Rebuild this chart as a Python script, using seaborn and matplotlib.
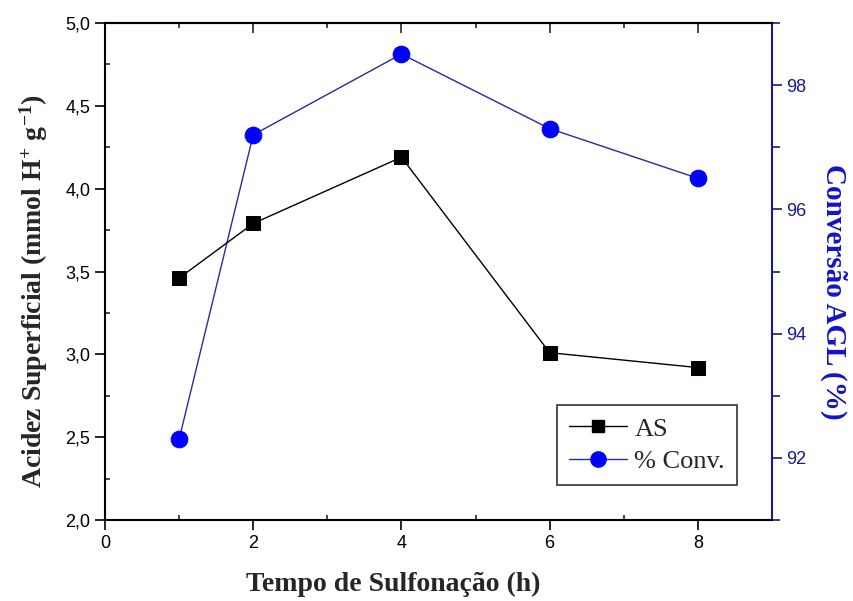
import matplotlib
matplotlib.use("Agg")
import matplotlib.pyplot as plt
import seaborn as sns
import numpy as np
from matplotlib.ticker import MultipleLocator, FuncFormatter
from matplotlib.lines import Line2D

# Data
tempo = [1, 2, 4, 6, 8]
acidez = [3.46, 3.79, 4.19, 3.01, 2.92]
conversao = [92.3, 97.2, 98.5, 97.3, 96.5]
label_as = "AS"
label_conv = "% Conv."
xlabel = "Tempo de Sulfonação (h)"
ylabel_left = r"Acidez Superficial (mmol H$^{\mathbf{+}}$ g$^{\mathbf{-1}}$)"
ylabel_right = "Conversão AGL (%)"

sns.set_theme(style="white")
plt.rcParams['font.family'] = ['Liberation Sans', 'DejaVu Sans']
plt.rcParams['mathtext.fontset'] = 'custom'
plt.rcParams['mathtext.rm'] = 'Liberation Serif:bold'
plt.rcParams['mathtext.bf'] = 'Liberation Serif:bold'
plt.rcParams['mathtext.it'] = 'Liberation Serif:bold'

fig = plt.figure(figsize=(8.54, 6.01), dpi=100)
ax = fig.add_axes([105/854, 81/601, 667/854, 497/601])
ax2 = ax.twinx()

blue_line = '#2a2a9a'
blue_mark = '#0000ff'
navy = '#1a1a8c'

sns.lineplot(x=tempo, y=acidez, ax=ax, color='black', lw=1.0, marker='s',
             markersize=10, markeredgecolor='black', markerfacecolor='black')
sns.lineplot(x=tempo, y=conversao, ax=ax2, color=blue_line, lw=1.0, marker='o',
             markersize=12, markeredgecolor=blue_mark, markerfacecolor=blue_mark)

ax.set_xlim(0, 9)
ax.set_ylim(2.0, 5.0)
ax2.set_ylim(91, 99)

ax.xaxis.set_major_locator(MultipleLocator(2))
ax.xaxis.set_minor_locator(MultipleLocator(1))
ax.yaxis.set_major_locator(MultipleLocator(0.5))
ax.yaxis.set_minor_locator(MultipleLocator(0.25))
ax.yaxis.set_major_formatter(FuncFormatter(lambda v, p: f"{v:.1f}".replace('.', ',')))
ax2.yaxis.set_major_locator(MultipleLocator(2))
ax2.yaxis.set_minor_locator(MultipleLocator(1))
ax2.yaxis.set_major_formatter(FuncFormatter(lambda v, p: f"{int(round(v))}"))

ax.tick_params(axis='both', which='major', direction='out', length=7, width=1.2,
               labelsize=13, color='black', labelcolor='black', left=True, bottom=True)
ax.tick_params(axis='both', which='minor', direction='in', length=3.5, width=1.2,
               left=True, bottom=True)
ax.tick_params(axis='y', which='both', right=False)
ax2.tick_params(axis='y', which='major', direction='out', length=7, width=1.2,
                labelsize=13, color=navy, labelcolor=navy, right=True)
ax2.tick_params(axis='y', which='minor', direction='out', length=6, width=1.2,
                color=navy, right=True)

top = ax.secondary_xaxis('top')
top.xaxis.set_major_locator(MultipleLocator(2))
top.xaxis.set_minor_locator(MultipleLocator(1))
top.tick_params(which='major', direction='in', length=7, width=1.2, labeltop=False)
top.tick_params(which='minor', direction='in', length=3.5, width=1.2)
top.spines['top'].set_linewidth(1.5)

for s in ['left', 'bottom', 'top']:
    ax.spines[s].set_color('black')
    ax.spines[s].set_linewidth(1.5)
    ax2.spines[s].set_visible(False)
ax.spines['right'].set_visible(False)
ax2.spines['right'].set_color(navy)
ax2.spines['right'].set_linewidth(1.5)

ax.set_xlabel(xlabel, fontsize=20, fontweight='bold', family='Liberation Serif')
ax.xaxis.set_label_coords(0.432, -0.105)
ax.set_ylabel(ylabel_left, fontsize=20, fontweight='bold', family='Liberation Serif')
ax.yaxis.set_label_coords(-0.082, 0.46)
ax2.set_ylabel(ylabel_right, fontsize=21, fontweight='bold', family='Liberation Serif',
               color='#1414c8', rotation=270, va='bottom')
ax2.yaxis.set_label_coords(1.072, 0.46)

handles = [
    Line2D([], [], color='black', lw=1.0, marker='s', markersize=9),
    Line2D([], [], color=blue_line, lw=1.0, marker='o', markersize=11,
           markerfacecolor=blue_mark, markeredgecolor=blue_mark),
]
leg = ax.legend(handles, [label_as, label_conv], loc='lower right',
                bbox_to_anchor=(0.9475, 0.07), frameon=True, fancybox=False,
                edgecolor='black', prop={'family': 'Liberation Serif', 'size': 19},
                handlelength=2.2, handletextpad=0.3, borderpad=0.45, labelspacing=0.35,
                borderaxespad=0)
leg.get_frame().set_linewidth(1.2)
ax.set_zorder(ax2.get_zorder() + 1)
ax.patch.set_visible(False)

fig.savefig("out.png", dpi=100)
